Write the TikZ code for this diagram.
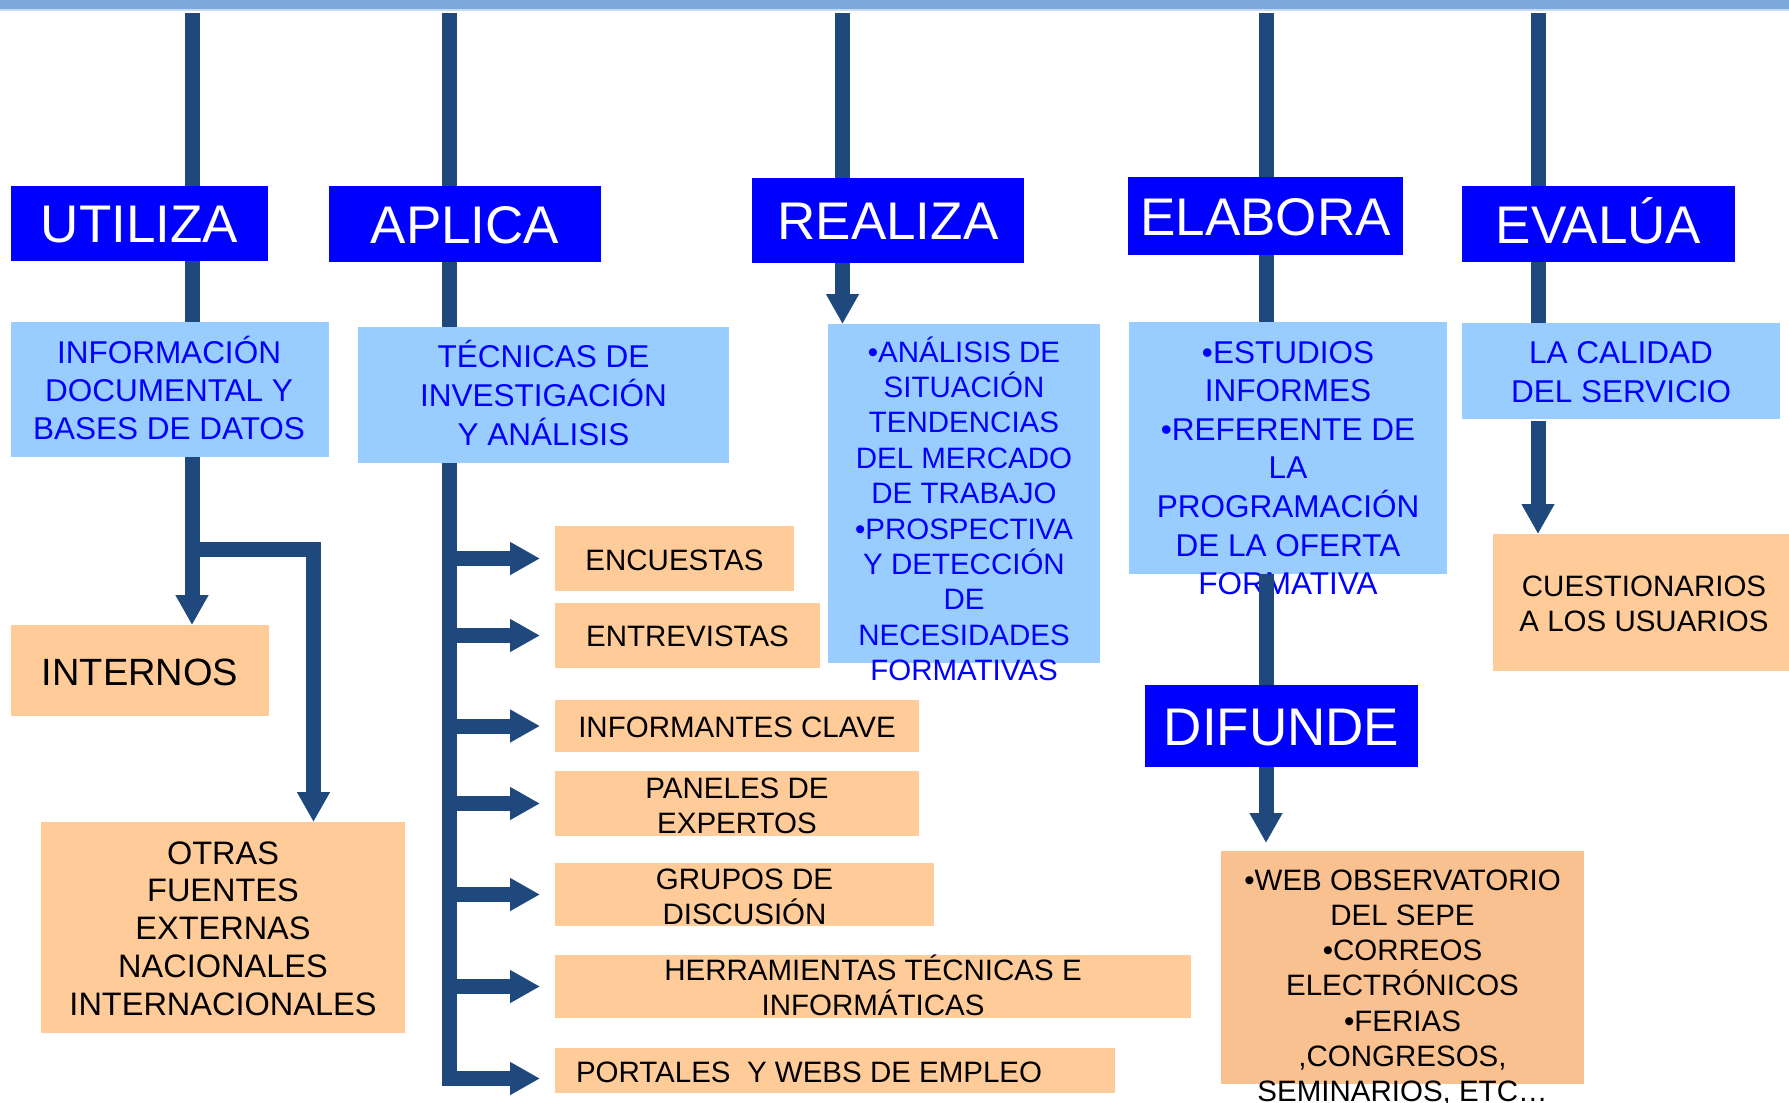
\documentclass[tikz,border=0pt]{standalone}
\usepackage{fontspec}
\setmainfont{Liberation Sans}
\usetikzlibrary{arrows.meta}
\definecolor{lcol}{HTML}{1F497D}
\definecolor{hblue}{HTML}{0000FF}
\definecolor{lblue}{HTML}{99CCFF}
\definecolor{orng}{HTML}{FFCC99}
\definecolor{orngb}{HTML}{F9C090}
\definecolor{topband}{HTML}{7BA9DC}
\definecolor{topline}{HTML}{C6DAF2}
\definecolor{btext}{HTML}{0000FF}
\begin{document}
\begin{tikzpicture}[x=1pt,y=-1pt,
  box/.style={inner sep=0pt, outer sep=0pt, draw=none},
  hdr/.style={box, fill=hblue, text=white, font=\fontsize{53}{60}\selectfont, text height=38pt, text depth=0pt},
  lbox/.style={box, fill=lblue},
  obox/.style={box, fill=orng},
  txt/.style={inner sep=0pt, outer sep=0pt, anchor=base, align=center},
  btxt/.style={txt, text=btext},
  conn/.style={draw=lcol, line width=15pt, line join=miter},
  arr/.style={conn, -{Triangle[length=30pt,width=31pt]}},
  sz/.style 2 args={minimum width=#1pt, minimum height=#2pt}
]
\useasboundingbox (0,0) rectangle (1789,1103);
% top band
\fill[topband] (0,0) rectangle (1789,9);
\fill[topline] (0,9) rectangle (1789,10.5);

% coordinates for the tops of the vertical lines
\coordinate (topU) at (192,13);
\coordinate (topA) at (449.5,13);
\coordinate (topR) at (842.5,13);
\coordinate (topE) at (1266,13);
\coordinate (topV) at (1538,13);
\coordinate (brU) at (192,549.5);
\coordinate (brR) at (313.5,549.5);
\coordinate (trunkEnd) at (449.5,1078.5);

% header boxes
\node[hdr, sz={257}{75}] (utl) at (139.5,223.5) {UTILIZA};
\node[hdr, sz={272}{76}] (apl) at (465,224) {APLICA};
\node[hdr, sz={272}{85}] (rea) at (888,220.5) {REALIZA};
\node[hdr, sz={275}{78}] (ela) at (1265.5,216) {ELABORA};
\node[hdr, sz={273}{76}] (eva) at (1598.5,224) {EVALÚA};
\node[hdr, sz={273}{82}] (dif) at (1281.5,726) {DIFUNDE};

% light blue boxes
\node[lbox, sz={318}{135}] (info) at (170,389.5) {};
\node[lbox, sz={371}{136}] (tec) at (543.5,395) {};
\node[lbox, sz={272}{339}] (rbox) at (964,493.5) {};
\node[lbox, sz={318}{252}] (ebox) at (1288,448) {};
\node[lbox, sz={318}{96}] (cal) at (1621,371) {};

% orange boxes
\node[obox, sz={258}{91}] (intn) at (140,670.5) {};
\node[obox, sz={364}{211}] (otras) at (223,927.5) {};
\node[obox, sz={239}{65}] (enc) at (674.5,558.5) {};
\node[obox, sz={265}{65}] (ent) at (687.5,635.5) {};
\node[obox, sz={364}{52}] (infc) at (737,726) {};
\node[obox, sz={364}{65}] (pan) at (737,803.5) {};
\node[obox, sz={379}{63}] (gru) at (744.5,894.5) {};
\node[obox, sz={636}{63}] (her) at (873,986.5) {};
\node[obox, sz={560}{45}] (por) at (835,1070.5) {};
\node[obox, sz={296}{137}] (cue) at (1641,602.5) {};
\node[box, fill=orngb, sz={363}{233}] (web) at (1402.5,967.5) {};

% texts in blue boxes (base = baseline of the last line)
\node[btxt, font=\fontsize{31.5}{38.3}\selectfont] (tinfo) at (169,439.6)
  {INFORMACIÓN\\DOCUMENTAL Y\\BASES DE DATOS};
\node[btxt, font=\fontsize{31.5}{39}\selectfont] (ttec) at (543.5,445)
  {TÉCNICAS DE\\INVESTIGACIÓN\\Y ANÁLISIS};
\node[btxt, font=\fontsize{29.5}{35.4}\selectfont] (trea) at (964,680.6)
  {•ANÁLISIS DE\\SITUACIÓN\\TENDENCIAS\\DEL MERCADO\\DE TRABAJO\\•PROSPECTIVA\\Y DETECCIÓN\\DE\\NECESIDADES\\FORMATIVAS};
\node[btxt, font=\fontsize{31.5}{38.6}\selectfont] (tela) at (1288,594.6)
  {•ESTUDIOS\\INFORMES\\•REFERENTE DE\\LA\\PROGRAMACIÓN\\DE LA OFERTA\\FORMATIVA};
\node[btxt, font=\fontsize{31.5}{39}\selectfont] (tcal) at (1621,402)
  {LA CALIDAD\\DEL SERVICIO};

% texts in orange boxes
\node[txt, font=\fontsize{38}{44}\selectfont] (tint) at (140,685) {INTERNOS};
\node[txt, font=\fontsize{32.5}{37.8}\selectfont] (totr) at (223,1015.2)
  {OTRAS\\FUENTES\\EXTERNAS\\NACIONALES\\INTERNACIONALES};
\node[txt, font=\fontsize{29.5}{35}\selectfont] (tenc) at (674.5,570) {ENCUESTAS};
\node[txt, font=\fontsize{29.5}{35}\selectfont] (tent) at (687.5,646.5) {ENTREVISTAS};
\node[txt, font=\fontsize{29.5}{35}\selectfont] (tinf) at (737,737.5) {INFORMANTES CLAVE};
\node[txt, font=\fontsize{29.5}{35}\selectfont] (tpan) at (737,833) {PANELES DE\\EXPERTOS};
\node[txt, font=\fontsize{29.5}{35}\selectfont] (tgru) at (744.5,924) {GRUPOS DE\\DISCUSIÓN};
\node[txt, font=\fontsize{29.5}{34.5}\selectfont] (ther) at (873,1015) {HERRAMIENTAS TÉCNICAS E\\INFORMÁTICAS};
\node[txt, anchor=base west, font=\fontsize{29.5}{35}\selectfont] (tpor) at (576,1082) {PORTALES\ \ Y WEBS DE EMPLEO};
\node[txt, font=\fontsize{29.5}{34.8}\selectfont] (tcue) at (1644,631.3) {CUESTIONARIOS\\A LOS USUARIOS};
\node[txt, font=\fontsize{29.5}{35.3}\selectfont] (tweb) at (1402.5,1101.8)
  {•WEB OBSERVATORIO\\DEL SEPE\\•CORREOS\\ELECTRÓNICOS\\•FERIAS\\,CONGRESOS,\\SEMINARIOS, ETC…};

% UTILIZA column
\draw[conn] (topU) -- (topU |- utl.north);
\draw[conn] (utl.south -| topU) -- (info.north -| topU);
\draw[arr] (info.south -| topU) -- (intn.north -| topU);
\draw[arr] (brU) -- (brR) -- (brR |- otras.north);

% APLICA column
\draw[conn] (topA) -- (topA |- apl.north);
\draw[conn] (apl.south -| topA) -- (tec.north -| topA);
\draw[arr, shorten >=15pt] (tec.south -| topA) -- (trunkEnd) -- (trunkEnd -| por.west);
\foreach \b in {enc,ent,infc,pan,gru,her}
  \draw[arr, shorten >=15pt] (topA |- \b.west) -- (\b.west);

% REALIZA column
\draw[conn] (topR) -- (topR |- rea.north);
\draw[arr] (rea.south -| topR) -- (rbox.north -| topR);

% ELABORA column
\draw[conn] (topE) -- (topE |- ela.north);
\draw[conn] (ela.south -| topE) -- (ebox.north -| topE);
\draw[conn] (ebox.south -| topE) -- (dif.north -| topE);
\draw[arr, shorten >=8pt] (dif.south -| topE) -- (web.north -| topE);

% EVALUA column
\draw[conn] (topV) -- (topV |- eva.north);
\draw[conn] (eva.south -| topV) -- (cal.north -| topV);
\draw[arr] ([yshift=-2pt]cal.south -| topV) -- (cue.north -| topV);
\end{tikzpicture}
\end{document}
